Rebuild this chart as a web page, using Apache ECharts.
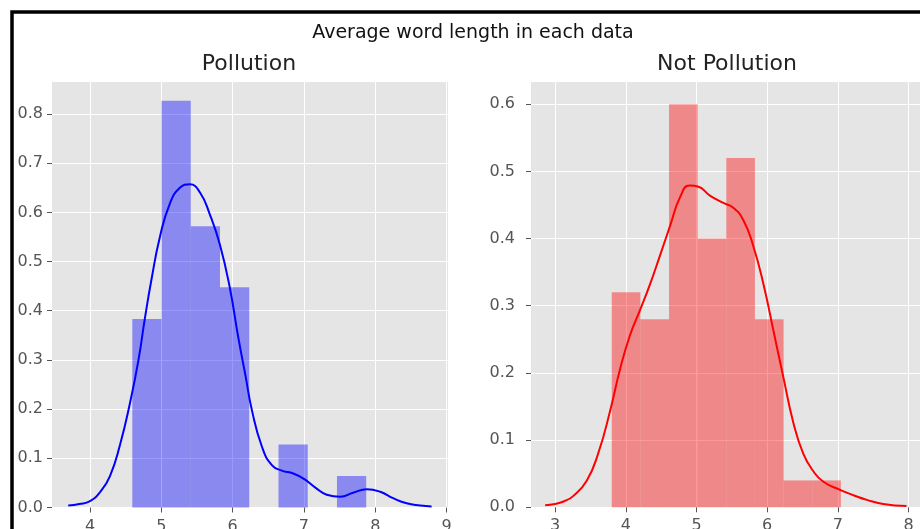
<!DOCTYPE html>
<html>
<head>
<meta charset="utf-8">
<script src="https://cdn.jsdelivr.net/npm/echarts@6/dist/echarts.min.js"></script>
<style>
  html, body { margin: 0; padding: 0; background: #fff; }
  #chart { width: 920px; height: 529px; }
</style>
</head>
<body>
<div id="chart"></div>
<script>
const chart = echarts.init(document.querySelector('#chart'));

// histogram bins (edges) and densities
const pollEdges = [4.593, 5.003, 5.413, 5.823, 6.233, 6.643, 7.053, 7.463, 7.873];
const pollDensity = [0.383, 0.827, 0.572, 0.448, 0, 0.128, 0, 0.064];
const notPollEdges = [3.802, 4.207, 4.612, 5.017, 5.422, 5.827, 6.232, 6.637, 7.042];
const notPollDensity = [0.32, 0.28, 0.60, 0.40, 0.52, 0.28, 0.04, 0.04];

// kde curves
const pollKde = [
    [3.695, 0.004], [3.85, 0.007], [4.0, 0.013], [4.14, 0.031], [4.28, 0.064], [4.42, 0.127],
    [4.56, 0.212], [4.68, 0.30], [4.77, 0.385], [4.865, 0.466], [4.98, 0.55], [5.12, 0.618],
    [5.26, 0.650], [5.40, 0.657], [5.54, 0.641], [5.68, 0.596], [5.82, 0.535],
    [5.96, 0.447], [6.08, 0.345], [6.18, 0.268], [6.27, 0.198], [6.41, 0.124],
    [6.55, 0.086], [6.69, 0.075], [6.85, 0.069], [7.0, 0.058], [7.155, 0.041],
    [7.32, 0.026], [7.51, 0.022], [7.69, 0.030], [7.88, 0.037], [8.07, 0.032],
    [8.25, 0.019], [8.44, 0.0085], [8.63, 0.004], [8.79, 0.002]
];
const notPollKde = [
    [2.86, 0.003], [3.0, 0.005], [3.13, 0.009], [3.26, 0.017], [3.45, 0.040], [3.61, 0.080],
    [3.78, 0.144], [3.92, 0.206], [4.06, 0.256], [4.20, 0.293], [4.34, 0.331],
    [4.485, 0.375], [4.63, 0.420], [4.77, 0.462], [4.90, 0.479], [5.03, 0.477],
    [5.19, 0.464], [5.38, 0.453], [5.52, 0.446], [5.66, 0.428], [5.80, 0.390],
    [5.95, 0.331], [6.09, 0.262], [6.23, 0.193], [6.37, 0.126], [6.51, 0.080],
    [6.65, 0.054], [6.795, 0.038], [7.03, 0.026], [7.22, 0.018], [7.41, 0.011],
    [7.64, 0.005], [7.97, 0.002]
];

const pollXTicks = [4, 5, 6, 7, 8, 9];
const pollYTicks = [0, 0.1, 0.2, 0.3, 0.4, 0.5, 0.6, 0.7, 0.8];
const notPollXTicks = [3, 4, 5, 6, 7, 8];
const notPollYTicks = [0, 0.1, 0.2, 0.3, 0.4, 0.5, 0.6];

const toBins = (edges, dens) => dens.map((d, i) => [edges[i], edges[i + 1], d]).filter(b => b[2] > 0);

function renderBar(params, api) {
    const start = api.coord([api.value(0), api.value(2)]);
    const end = api.coord([api.value(1), 0]);
    return {
        type: 'rect',
        shape: { x: start[0], y: start[1], width: end[0] - start[0], height: end[1] - start[1] },
        style: api.style()
    };
}

const tickLabel = { color: '#555', fontFamily: 'DejaVu Sans', fontSize: 16 };

const xAxisOf = (idx, min, max, ticks) => ({
    type: 'value', gridIndex: idx, min: min, max: max,
    axisLine: { show: false },
    axisTick: { show: true, length: 5, inside: false, customValues: ticks, lineStyle: { color: '#555', width: 1 } },
    axisLabel: Object.assign({ customValues: ticks, margin: 11 }, tickLabel),
    splitLine: { show: true, lineStyle: { color: '#fff', width: 1 } }
});

const yAxisOf = (idx, max, ticks, margin) => ({
    type: 'value', gridIndex: idx, min: 0, max: max,
    axisLine: { show: false },
    axisTick: { show: true, length: 5, customValues: ticks, lineStyle: { color: '#555', width: 1 } },
    axisLabel: Object.assign({ customValues: ticks, margin: margin, formatter: v => v.toFixed(1) }, tickLabel),
    splitLine: { show: true, lineStyle: { color: '#fff', width: 1 } }
});

chart.setOption({
    animation: false,
    title: [
        { text: 'Average word length in each data', left: 473, top: 24, textAlign: 'center', padding: 0,
          textStyle: { fontFamily: 'DejaVu Sans', fontSize: 19, fontWeight: 'normal', color: '#111' } },
        { text: 'Pollution', left: 249, top: 53, textAlign: 'center', padding: 0,
          textStyle: { fontFamily: 'DejaVu Sans', fontSize: 22, fontWeight: 'normal', color: '#222' } },
        { text: 'Not Pollution', left: 727, top: 53, textAlign: 'center', padding: 0,
          textStyle: { fontFamily: 'DejaVu Sans', fontSize: 22, fontWeight: 'normal', color: '#222' } }
    ],
    grid: [
        { left: 52, top: 82, width: 396, height: 425.5, outerBoundsMode: 'none',
          show: true, backgroundColor: '#e5e5e5', borderWidth: 0 },
        { left: 531, top: 82, width: 396, height: 425.3, outerBoundsMode: 'none',
          show: true, backgroundColor: '#e5e5e5', borderWidth: 0 }
    ],
    xAxis: [
        xAxisOf(0, 3.467, 9.02, pollXTicks),
        xAxisOf(1, 2.66, 8.26, notPollXTicks)
    ],
    yAxis: [
        yAxisOf(0, 0.865, pollYTicks, 9),
        yAxisOf(1, 0.633, notPollYTicks, 16)
    ],
    graphic: [
        { type: 'rect', shape: { x: 12, y: 12, width: 1200, height: 1000 },
          style: { fill: 'none', stroke: '#000', lineWidth: 3.5 }, z: 100 }
    ],
    series: [
        { type: 'custom', xAxisIndex: 0, yAxisIndex: 0, renderItem: renderBar,
          itemStyle: { color: 'rgba(0,0,255,0.4)' }, data: toBins(pollEdges, pollDensity) },
        { type: 'line', xAxisIndex: 0, yAxisIndex: 0, smooth: 0.5, showSymbol: false,
          lineStyle: { color: '#0000ff', width: 2 }, data: pollKde },
        { type: 'custom', xAxisIndex: 1, yAxisIndex: 1, renderItem: renderBar,
          itemStyle: { color: 'rgba(255,0,0,0.4)' }, data: toBins(notPollEdges, notPollDensity) },
        { type: 'line', xAxisIndex: 1, yAxisIndex: 1, smooth: 0.5, showSymbol: false,
          lineStyle: { color: '#ff0000', width: 2 }, data: notPollKde }
    ]
});
</script>
</body>
</html>
